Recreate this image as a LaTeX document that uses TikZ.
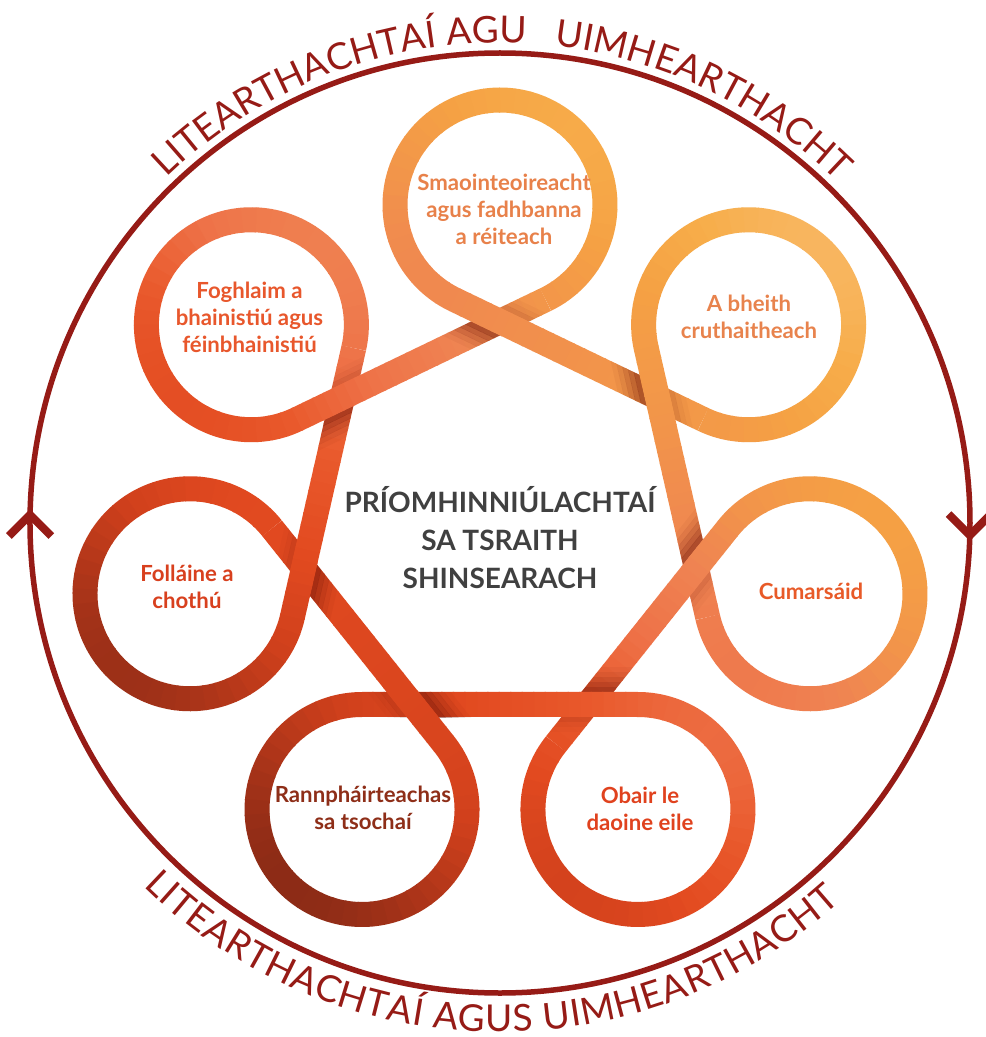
\documentclass[tikz,border=0pt]{standalone}
\usepackage{fontspec}
\setmainfont{Lato}
\usetikzlibrary{decorations.text}
\definecolor{ringred}{HTML}{961B16}
\definecolor{centregrey}{HTML}{404040}
\definecolor{shadowc}{RGB}{110,20,8}
\definecolor{labT}{HTML}{E8814A}
\definecolor{labA}{HTML}{E8834D}
\definecolor{labC}{HTML}{E85A28}
\definecolor{labO}{HTML}{E0421E}
\definecolor{labR}{HTML}{8E2E18}
\definecolor{labFo}{HTML}{D8401E}
\definecolor{labFg}{HTML}{E8572C}
\def\rbR{{248,247,245,242,239,238,233,226,208,174,140}}
\def\rbG{{184,173,161,149,131,114,89,74,64,53,43}}
\def\rbB{{101,74,68,74,82,72,44,32,28,25,22}}
\newcommand\ribboncolor[2]{%
  \pgfmathsetmacro\rbt{max(0,min(9.999,10*(439.3-0.683*(#1)-0.730*(#2))/849))}%
  \pgfmathtruncatemacro\rbi{floor(\rbt)}%
  \pgfmathtruncatemacro\rbj{\rbi+1}%
  \pgfmathsetmacro\rbf{\rbt-\rbi}%
  \pgfmathtruncatemacro\rbr{round(\rbR[\rbi]*(1-\rbf)+\rbR[\rbj]*\rbf)}%
  \pgfmathtruncatemacro\rbg{round(\rbG[\rbi]*(1-\rbf)+\rbG[\rbj]*\rbf)}%
  \pgfmathtruncatemacro\rbb{round(\rbB[\rbi]*(1-\rbf)+\rbB[\rbj]*\rbf)}%
  \definecolor{rc}{RGB}{\rbr,\rbg,\rbb}%
}
\newcommand\looppieces[1]{%
  \pgfmathsetmacro\lpth{90-#1*360/7}%
  \pgfmathsetmacro\lpcx{318*cos(\lpth)}%
  \pgfmathsetmacro\lpcy{318*sin(\lpth)}%
  \foreach \j in {0,...,39}{%
    \pgfmathsetmacro\lpa{\lpth-154.2857+\j*7.71429}%
    \pgfmathsetmacro\lpb{\lpa+7.71429+0.5}%
    \pgfmathsetmacro\lpm{\lpa+3.857}%
    \ribboncolor{\lpcx+105*cos(\lpm)}{\lpcy+105*sin(\lpm)}%
    \draw[ribbonpiece] ({\lpcx+105*cos(\lpa)},{\lpcy+105*sin(\lpa)}) arc[start angle=\lpa, end angle=\lpb, radius=105];
  }%
}
\newcommand\segpieces[3]{%
  \pgfmathsetmacro\sgta{90-#1*360/7}%
  \pgfmathsetmacro\sgtb{\sgta-360/7}%
  \pgfmathsetmacro\sgsx{318*cos(\sgta)+105*cos(\sgta+154.2857)}%
  \pgfmathsetmacro\sgsy{318*sin(\sgta)+105*sin(\sgta+154.2857)}%
  \pgfmathsetmacro\sgex{318*cos(\sgtb)+105*cos(\sgtb-154.2857)}%
  \pgfmathsetmacro\sgey{318*sin(\sgtb)+105*sin(\sgtb-154.2857)}%
  \foreach \j in {#2,...,#3}{%
    \pgfmathsetmacro\sgfa{\j/24}%
    \pgfmathsetmacro\sgfb{min(1,(\j+1)/24+0.005)}%
    \pgfmathsetmacro\sgfm{(\j+0.5)/24}%
    \ribboncolor{\sgsx+(\sgex-\sgsx)*\sgfm}{\sgsy+(\sgey-\sgsy)*\sgfm}%
    \draw[ribbonpiece] ({\sgsx+(\sgex-\sgsx)*\sgfa},{\sgsy+(\sgey-\sgsy)*\sgfa}) -- ({\sgsx+(\sgex-\sgsx)*\sgfb},{\sgsy+(\sgey-\sgsy)*\sgfb});
  }%
}
\newcommand\crossshadow[1]{%
  \pgfmathsetmacro\shth{90-#1*360/7}%
  \pgfmathsetmacro\shpx{201.5*cos(\shth)}%
  \pgfmathsetmacro\shpy{201.5*sin(\shth)}%
  \pgfmathsetmacro\shdin{\shth-64.2857}%
  \begin{scope}[shift={(\shpx,\shpy)}, rotate=\shdin]
    \clip (-70,-12.5) rectangle (70,12.5);
    \begin{scope}[rotate=-51.4286]
      \foreach \o/\op in {15/0.5, 20/0.36, 25/0.24, 30/0.13, 35/0.05}{%
        \draw[shadowc, opacity=\op, line width=5.2pt] (-90,-\o) -- (90,-\o);}
      \foreach \o/\op in {15/0.16, 20/0.08, 25/0.03}{%
        \draw[shadowc, opacity=\op, line width=5.2pt] (-90,\o) -- (90,\o);}
    \end{scope}
  \end{scope}
}
\newcommand\curvefont{\fontsize{37}{37}\selectfont}
\begin{document}
\begin{tikzpicture}[x=1pt,y=1pt,
  ribbonpiece/.style={draw=rc, line width=25pt, line cap=butt},
  looplabel/.style={align=center, inner sep=0pt, font=\fontsize{22.2}{27}\selectfont\bfseries},
  ring/.style={draw=ringred, line width=5.5pt},
  chevron/.style={draw=ringred, line width=8pt, line cap=butt, line join=miter},
  curvetext/.style={decorate, decoration={text along path, text={|\curvefont|#1}, text align=fit to path, text color=ringred}}]
\useasboundingbox (-500,-514) rectangle (486,523);
\fill[white] (-500,-514) rectangle (486,523);
% outer ring
\draw[ring] (0,0) circle[radius=470];
\begin{scope}[shift={(179:470)}]
  \draw[chevron] (225:30) -- (0,0) -- (315:30);
\end{scope}
\begin{scope}[shift={(-1.5:470)}]
  \draw[chevron] (45:30) -- (0,0) -- (135:30);
\end{scope}
% curved texts
\path[curvetext={LITEARTHACHTAÍ AGU}] (134:480) arc[start angle=134, end angle=87.5, radius=480];
\path[curvetext={UIMHEARTHACHT}] (83.5:480) arc[start angle=83.5, end angle=46, radius=480];
\path[curvetext={LITEARTHACHTAÍ AGUS UIMHEARTHACHT}] (225.5:509) arc[start angle=225.5, end angle=312, radius=509];
% ribbon
\segpieces{6}{12}{23}
\looppieces{0}\crossshadow{0}\segpieces{0}{0}{23}
\looppieces{1}\crossshadow{1}\segpieces{1}{0}{23}
\looppieces{2}\crossshadow{2}\segpieces{2}{0}{23}
\looppieces{3}\crossshadow{3}\segpieces{3}{0}{23}
\looppieces{4}\crossshadow{4}\segpieces{4}{0}{23}
\looppieces{5}\crossshadow{5}\segpieces{5}{0}{23}
\looppieces{6}\crossshadow{6}\segpieces{6}{0}{11}
% labels
\node[looplabel, text=labT] (lT) at (4,314) {Smaointeoireacht\\agus fadhbanna\\a réiteach};
\node[looplabel, text=labA] (lA) at (249,206.5) {A bheith\\cruthaitheach};
\node[looplabel, text=labC] (lC) at (311,-68) {Cumarsáid};
\node[looplabel, text=labO] (lO) at (140,-285.5) {Obair le\\daoine eile};
\node[looplabel, text=labR] (lR) at (-137,-284.5) {Rannpháirteachas\\sa tsochaí};
\node[looplabel, text=labFo] (lFo) at (-313,-64) {Folláine a\\chothú};
\node[looplabel, text=labFg] (lFg) at (-250.5,206) {Foghlaim a\\bhainistiú agus\\féinbhainistiú};
\node[align=center, inner sep=0pt, font=\fontsize{28}{38}\selectfont\bfseries, text=centregrey] (centre) at (0,-14.5) {PRÍOMHINNIÚLACHTAÍ\\SA TSRAITH\\SHINSEARACH};
\end{tikzpicture}
\end{document}
